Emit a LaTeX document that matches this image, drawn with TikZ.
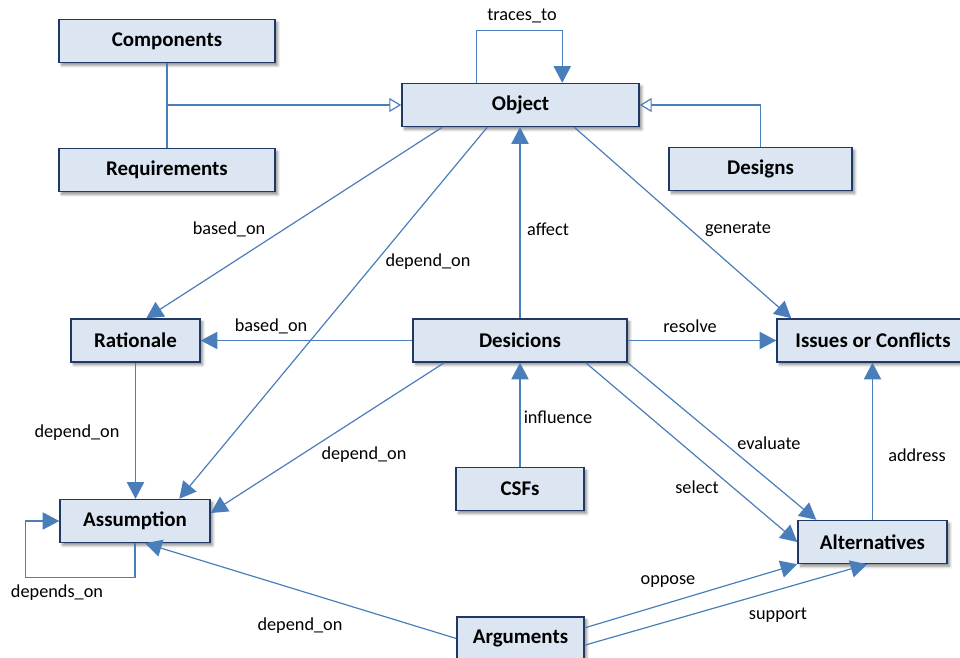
\documentclass[tikz,border=0pt]{standalone}
\usepackage{fontspec}
\setmainfont{Carlito}
\usetikzlibrary{arrows.meta,shadows.blur}

\definecolor{boxfill}{RGB}{220,230,242}
\definecolor{boxline}{RGB}{31,56,100}
\definecolor{linkc}{RGB}{74,126,187}

\tikzset{
  entity/.style={draw=boxline, fill=boxfill, line width=1.1pt,
    minimum height=32.25pt, inner sep=0pt,
    font=\bfseries\fontsize{15.7}{18}\selectfont,
    blur shadow={shadow xshift=2pt, shadow yshift=-2.2pt,
      shadow blur radius=2pt, shadow blur steps=6, shadow opacity=45}},
  link/.style={draw=linkc, line width=0.9pt,
    -{Triangle[length=12.5pt,width=13pt]}},
  isa/.style={draw=linkc, line width=0.9pt,
    -{Triangle[open,length=9pt,width=10.5pt,fill=white]}},
  plain/.style={draw=linkc, line width=0.9pt},
  lbl/.style={font=\fontsize{13.7}{16}\selectfont, inner sep=0pt}
}

\begin{document}
\begin{tikzpicture}[x=0.75pt,y=-0.75pt]
\useasboundingbox (0,0) rectangle (960,657);
\clip (0,0) rectangle (960,657);

% entities
\node[entity, minimum width=162pt]   (cmp)  at (167,41)    {Components};
\node[entity, minimum width=162pt]   (req)  at (167,170)   {Requirements};
\node[entity, minimum width=177.75pt](obj)  at (520.5,105) {Object};
\node[entity, minimum width=137.25pt](dsg)  at (760.5,169) {Designs};
\node[entity, minimum width=96.75pt] (rat)  at (135.5,340.5) {Rationale};
\node[entity, minimum width=160.5pt] (dec)  at (520,340.5) {Desicions};
\node[entity, minimum width=144pt]   (iss)  at (873,340.5) {Issues or Conflicts};
\node[entity, minimum width=112.5pt] (asm)  at (135,521)   {Assumption};
\node[entity, minimum width=96pt]    (csf)  at (520,489)   {CSFs};
\node[entity, minimum width=111.75pt](alt)  at (872.5,542) {Alternatives};
\node[entity, minimum width=95.25pt] (argu) at (520.5,638.5) {Arguments};

% generalisation links into Object
\draw[plain] (cmp.south) -- (req.north);
\draw[isa] (cmp.south |- obj.west) -- (obj.west);
\draw[isa] (dsg.north) |- (obj.east);

% self reference on Object
\draw[link] ([xshift=56.25pt]obj.north west) -- ++(0,39pt)
  -| ([xshift=120.75pt]obj.north west);

% links leaving Object
\draw[link] ([xshift=30.75pt]obj.south west) -- ([xshift=57pt]rat.north west);
\draw[link] ([xshift=64.5pt]obj.south west) -- ([xshift=90pt]asm.north west);
\draw[link] ([xshift=129.75pt]obj.south west) -- ([xshift=11.25pt]iss.north west);

% links leaving Desicions
\draw[link] (dec.north) -- (dec.north |- obj.south);
\draw[link] (dec.west) -- (rat.east);
\draw[link] (dec.east) -- (iss.west);
\draw[link] ([xshift=24pt]dec.south west) -- ([yshift=6pt]asm.east);
\draw[link] (dec.south east) -- ([xshift=14.25pt]alt.north west);
\draw[link] ([xshift=-31.5pt]dec.south east) -- (alt.west);

% remaining links
\draw[link] (csf.north) -- (csf.north |- dec.south);
\draw[link] (rat.south) -- (rat.south |- asm.north);
\draw[link] (alt.north) -- (alt.north |- iss.south);
\draw[link] (asm.south) -- ++(0,-25.5pt) -| ([xshift=-25.5pt]asm.west) -- (asm.west);
\draw[link] (argu.west) -- ([xshift=7.5pt]asm.south);
\draw[link] ([yshift=8pt]argu.east) -- (alt.south west);
\draw[link] ([yshift=-5pt]argu.east) -- ([xshift=52.5pt]alt.south west);

% link labels
\node[lbl] (l1)  at (522,16)  {traces\_to};
\node[lbl] (l2)  at (229,229) {based\_on};
\node[lbl] (l3)  at (428,262) {depend\_on};
\node[lbl] (l4)  at (548,229) {affect};
\node[lbl] (l5)  at (738,229) {generate};
\node[lbl] (l6)  at (271,326) {based\_on};
\node[lbl] (l7)  at (690,326) {resolve};
\node[lbl] (l8)  at (77,433)  {depend\_on};
\node[lbl] (l9)  at (364,455) {depend\_on};
\node[lbl] (l10) at (558,417) {influence};
\node[lbl] (l11) at (769,443) {evaluate};
\node[lbl] (l12) at (697,487) {select};
\node[lbl] (l13) at (917,455) {address};
\node[lbl] (l14) at (57,593)  {depends\_on};
\node[lbl] (l15) at (300,626) {depend\_on};
\node[lbl] (l16) at (668,582) {oppose};
\node[lbl] (l17) at (778,615) {support};
\end{tikzpicture}
\end{document}
